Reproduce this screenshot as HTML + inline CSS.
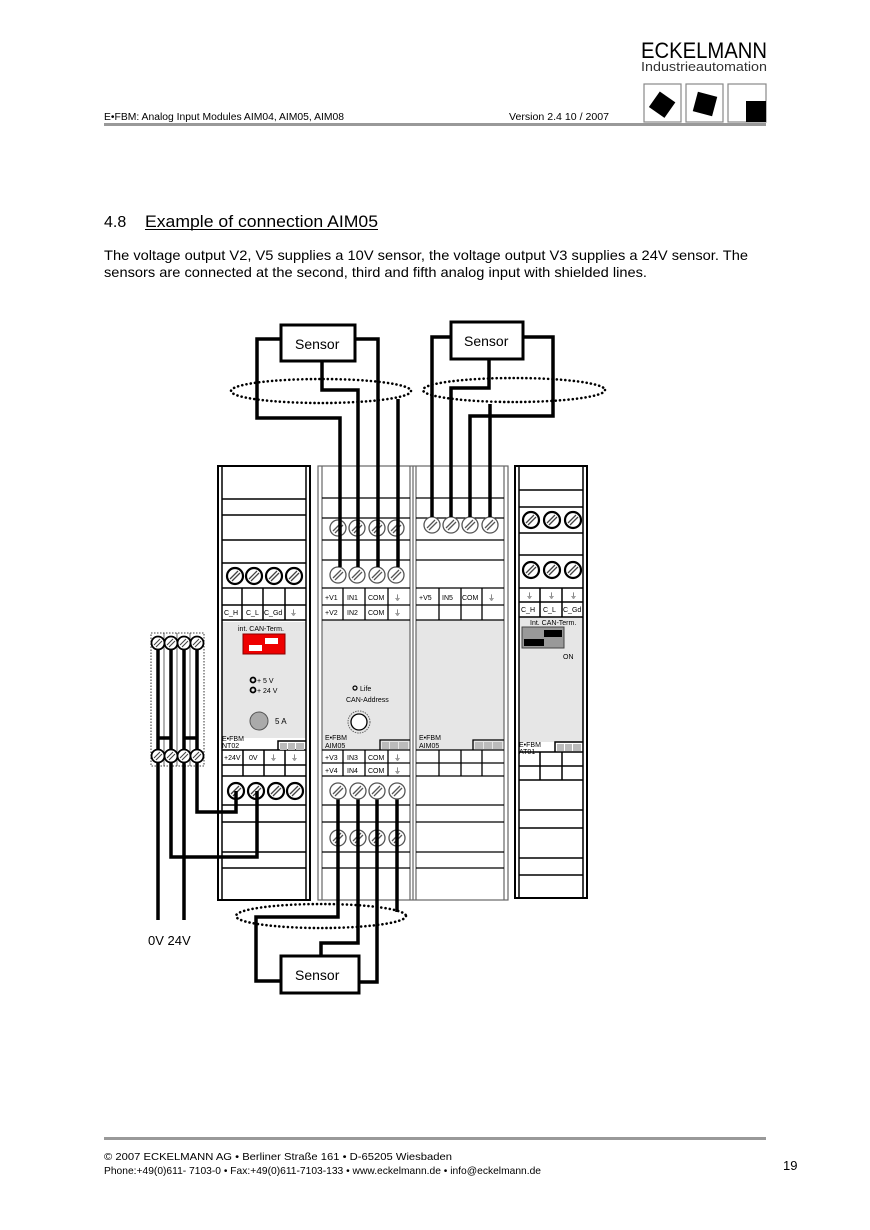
<!DOCTYPE html>
<html><head><meta charset="utf-8"><style>
html,body{margin:0;padding:0;background:#fff}
svg{display:block}
text{font-family:"Liberation Sans",Arial,sans-serif}
</style></head><body>
<svg width="870" height="1230" viewBox="0 0 870 1230" xmlns="http://www.w3.org/2000/svg">
<defs>
<g id="t"><circle r="8" fill="#fff" stroke="#000" stroke-width="2.2"/><path d="M-5 3L3-5M-3 5L5-3" stroke="#444" stroke-width="1.3"/></g>
<g id="tg"><circle r="8" fill="#fff" stroke="#555" stroke-width="1.3"/><path d="M-5 3L3-5M-3 5L5-3" stroke="#555" stroke-width="1.3"/></g>
<g id="ts"><circle r="6.5" fill="#fff" stroke="#000" stroke-width="1.8"/><path d="M-4 2L2-4M-2 4L4-2" stroke="#444" stroke-width="1.1"/></g>
</defs>

<!-- Header -->
<text x="641" y="58" font-size="22" textLength="126" lengthAdjust="spacingAndGlyphs">ECKELMANN</text>
<text x="641" y="71" font-size="13" fill="#333" textLength="126" lengthAdjust="spacingAndGlyphs">Industrieautomation</text>
<rect x="644" y="84" width="37" height="38" fill="#fff" stroke="#888" stroke-width="1.2"/>
<rect x="686" y="84" width="37" height="38" fill="#fff" stroke="#888" stroke-width="1.2"/>
<rect x="728" y="84" width="38" height="38" fill="#fff" stroke="#888" stroke-width="1.2"/>
<rect x="653" y="95" width="19" height="19" transform="rotate(35 662 104)"/>
<rect x="695" y="94" width="20" height="20" transform="rotate(15 705 104)"/>
<rect x="746" y="101" width="20" height="21"/>
<text x="104" y="120" font-size="10" textLength="240" lengthAdjust="spacingAndGlyphs">E•FBM: Analog Input Modules AIM04, AIM05, AIM08</text>
<text x="509" y="120" font-size="10" textLength="100" lengthAdjust="spacingAndGlyphs">Version 2.4  10 / 2007</text>
<rect x="104" y="123" width="662" height="3" fill="#999"/>

<!-- Title -->
<text x="104" y="227" font-size="16">4.8</text>
<text x="145" y="227" font-size="17" textLength="233" lengthAdjust="spacingAndGlyphs">Example of connection AIM05</text>
<rect x="145" y="229" width="233" height="1" fill="#000"/>
<text x="104" y="260" font-size="14" textLength="644" lengthAdjust="spacingAndGlyphs">The voltage output V2, V5 supplies a 10V sensor, the voltage output V3 supplies a 24V sensor. The</text>
<text x="104" y="277" font-size="14" textLength="543" lengthAdjust="spacingAndGlyphs">sensors are connected at the second, third and fifth analog input with shielded lines.</text>

<!-- NT02 module -->
<g>
<rect x="218" y="466" width="92" height="434" fill="#fff" stroke="#000" stroke-width="2"/>
<rect x="222" y="622" width="84" height="116" fill="#e6e6e6"/>
<line x1="222" y1="466" x2="222" y2="900" stroke="#000" stroke-width="1.5"/>
<line x1="306" y1="466" x2="306" y2="900" stroke="#000" stroke-width="1.5"/>
<g stroke="#000" stroke-width="1.5">
<line x1="222" y1="499" x2="306" y2="499"/><line x1="222" y1="515" x2="306" y2="515"/>
<line x1="222" y1="540" x2="306" y2="540"/><line x1="222" y1="563" x2="306" y2="563"/>
<line x1="222" y1="588" x2="306" y2="588"/><line x1="222" y1="605" x2="306" y2="605"/>
<line x1="222" y1="620" x2="306" y2="620"/>
<line x1="242" y1="588" x2="242" y2="620"/><line x1="263" y1="588" x2="263" y2="620"/><line x1="285" y1="588" x2="285" y2="620"/>
<line x1="222" y1="750" x2="306" y2="750"/><line x1="222" y1="765" x2="306" y2="765"/><line x1="222" y1="776" x2="306" y2="776"/>
<line x1="243" y1="750" x2="243" y2="776"/><line x1="264" y1="750" x2="264" y2="776"/><line x1="285" y1="750" x2="285" y2="776"/>
<line x1="222" y1="805" x2="306" y2="805"/><line x1="222" y1="822" x2="306" y2="822"/>
<line x1="222" y1="852" x2="306" y2="852"/><line x1="222" y1="868" x2="306" y2="868"/>
<polyline points="278,750 278,741 306,741" fill="none"/>
</g>
<rect x="280" y="743" width="7" height="7" fill="#bbb"/><rect x="288" y="743" width="7" height="7" fill="#bbb"/><rect x="296" y="743" width="8" height="7" fill="#bbb"/>
<use href="#t" x="235" y="576"/><use href="#t" x="254" y="576"/><use href="#t" x="274" y="576"/><use href="#t" x="294" y="576"/>
<use href="#t" x="236" y="791"/><use href="#t" x="256" y="791"/><use href="#t" x="276" y="791"/><use href="#t" x="295" y="791"/>
<g font-size="7">
<text x="224" y="615">C_H</text><text x="246" y="615">C_L</text><text x="264" y="615">C_Gd</text><text x="290" y="615">⏚</text>
<text x="224" y="760">+24V</text><text x="249" y="760">0V</text><text x="270" y="760">⏚</text><text x="291" y="760">⏚</text>
<text x="238" y="631">int. CAN-Term.</text>
<text x="222" y="741">E•FBM</text><text x="222" y="748">NT02</text>
<text x="257" y="683">+   5 V</text><text x="257" y="693">+ 24 V</text>
<text x="275" y="724" font-size="8">5 A</text>
</g>
<circle cx="253" cy="680" r="2.5" fill="none" stroke="#000" stroke-width="1.8"/>
<circle cx="253" cy="690" r="2.5" fill="none" stroke="#000" stroke-width="1.8"/>
<circle cx="259" cy="721" r="9" fill="#aaa" stroke="#555"/>
<rect x="243" y="634" width="42" height="20" fill="#e00" stroke="#800"/>
<rect x="265" y="638" width="13" height="6" fill="#fff"/>
<rect x="249" y="645" width="13" height="6" fill="#fff"/>
</g>

<!-- AIM05 modules -->
<g>
<rect x="318" y="466" width="190" height="434" fill="#fff" stroke="#666" stroke-width="1.2"/>
<rect x="322" y="620" width="88" height="130" fill="#e6e6e6"/>
<rect x="416" y="620" width="88" height="130" fill="#e6e6e6"/>
<g stroke="#666" stroke-width="1.2">
<line x1="322" y1="466" x2="322" y2="900"/><line x1="410" y1="466" x2="410" y2="900"/>
<line x1="413" y1="466" x2="413" y2="900"/><line x1="416" y1="466" x2="416" y2="900"/>
<line x1="504" y1="466" x2="504" y2="900"/>
</g>
<g stroke="#000" stroke-width="1.3">
<line x1="322" y1="498" x2="410" y2="498"/><line x1="416" y1="498" x2="504" y2="498"/>
<line x1="322" y1="518" x2="410" y2="518"/><line x1="416" y1="518" x2="504" y2="518"/>
<line x1="322" y1="540" x2="410" y2="540"/><line x1="416" y1="540" x2="504" y2="540"/>
<line x1="322" y1="560" x2="410" y2="560"/><line x1="416" y1="560" x2="504" y2="560"/>
<line x1="322" y1="588" x2="410" y2="588"/><line x1="416" y1="588" x2="504" y2="588"/>
<line x1="322" y1="605" x2="410" y2="605"/><line x1="416" y1="605" x2="504" y2="605"/>
<line x1="322" y1="620" x2="410" y2="620"/><line x1="416" y1="620" x2="504" y2="620"/>
<line x1="343" y1="588" x2="343" y2="620"/><line x1="365" y1="588" x2="365" y2="620"/><line x1="388" y1="588" x2="388" y2="620"/>
<line x1="439" y1="588" x2="439" y2="620"/><line x1="461" y1="588" x2="461" y2="620"/><line x1="482" y1="588" x2="482" y2="620"/>
<line x1="322" y1="750" x2="410" y2="750"/><line x1="416" y1="750" x2="504" y2="750"/>
<line x1="322" y1="763" x2="410" y2="763"/><line x1="416" y1="763" x2="504" y2="763"/>
<line x1="322" y1="776" x2="410" y2="776"/><line x1="416" y1="776" x2="504" y2="776"/>
<line x1="343" y1="750" x2="343" y2="776"/><line x1="365" y1="750" x2="365" y2="776"/><line x1="388" y1="750" x2="388" y2="776"/>
<line x1="439" y1="750" x2="439" y2="776"/><line x1="461" y1="750" x2="461" y2="776"/><line x1="482" y1="750" x2="482" y2="776"/>
<line x1="322" y1="805" x2="410" y2="805"/><line x1="416" y1="805" x2="504" y2="805"/>
<line x1="322" y1="822" x2="410" y2="822"/><line x1="416" y1="822" x2="504" y2="822"/>
<line x1="322" y1="852" x2="410" y2="852"/><line x1="416" y1="852" x2="504" y2="852"/>
<line x1="322" y1="868" x2="410" y2="868"/><line x1="416" y1="868" x2="504" y2="868"/>
<polyline points="380,750 380,740 410,740" fill="none"/>
<polyline points="473,750 473,740 504,740" fill="none"/>
</g>
<rect x="382" y="742" width="7" height="7" fill="#bbb"/><rect x="390" y="742" width="8" height="7" fill="#bbb"/><rect x="399" y="742" width="9" height="7" fill="#bbb"/>
<rect x="475" y="742" width="8" height="7" fill="#bbb"/><rect x="484" y="742" width="8" height="7" fill="#bbb"/><rect x="493" y="742" width="9" height="7" fill="#bbb"/>
<use href="#tg" x="338" y="528"/><use href="#tg" x="357" y="528"/><use href="#tg" x="377" y="528"/><use href="#tg" x="396" y="528"/>
<use href="#tg" x="338" y="575"/><use href="#tg" x="357" y="575"/><use href="#tg" x="377" y="575"/><use href="#tg" x="396" y="575"/>
<use href="#tg" x="432" y="525"/><use href="#tg" x="451" y="525"/><use href="#tg" x="470" y="525"/><use href="#tg" x="490" y="525"/>
<use href="#tg" x="338" y="838"/><use href="#tg" x="358" y="838"/><use href="#tg" x="377" y="838"/><use href="#tg" x="397" y="838"/>
<g font-size="7">
<text x="325" y="600">+V1</text><text x="347" y="600">IN1</text><text x="368" y="600">COM</text><text x="394" y="600">⏚</text>
<text x="325" y="615">+V2</text><text x="347" y="615">IN2</text><text x="368" y="615">COM</text><text x="394" y="615">⏚</text>
<text x="419" y="600">+V5</text><text x="442" y="600">IN5</text><text x="462" y="600">COM</text><text x="488" y="600">⏚</text>
<text x="325" y="760">+V3</text><text x="347" y="760">IN3</text><text x="368" y="760">COM</text><text x="394" y="760">⏚</text>
<text x="325" y="773">+V4</text><text x="347" y="773">IN4</text><text x="368" y="773">COM</text><text x="394" y="773">⏚</text>
<text x="325" y="740">E•FBM</text><text x="325" y="748">AIM05</text>
<text x="419" y="740">E•FBM</text><text x="419" y="748">AIM05</text>
<text x="360" y="691">Life</text><text x="346" y="702">CAN-Address</text>
</g>
<circle cx="355" cy="688" r="2" fill="none" stroke="#000" stroke-width="1.2"/>
<circle cx="359" cy="722" r="11" fill="none" stroke="#666" stroke-width="1" stroke-dasharray="1.5 1"/>
<circle cx="359" cy="722" r="8" fill="#fff" stroke="#000" stroke-width="1.3"/>
</g>

<!-- AT01 -->
<g>
<rect x="515" y="466" width="72" height="432" fill="#fff" stroke="#000" stroke-width="2"/>
<rect x="519" y="617" width="64" height="125" fill="#e6e6e6"/>
<g stroke="#000" stroke-width="1.5">
<line x1="519" y1="466" x2="519" y2="898"/><line x1="583" y1="466" x2="583" y2="898"/>
<line x1="519" y1="490" x2="583" y2="490"/><line x1="519" y1="507" x2="583" y2="507"/>
<line x1="519" y1="533" x2="583" y2="533"/><line x1="519" y1="555" x2="583" y2="555"/>
<line x1="519" y1="588" x2="583" y2="588"/><line x1="519" y1="602" x2="583" y2="602"/><line x1="519" y1="617" x2="583" y2="617"/>
<line x1="540" y1="588" x2="540" y2="617"/><line x1="562" y1="588" x2="562" y2="617"/>
<line x1="519" y1="752" x2="583" y2="752"/><line x1="519" y1="766" x2="583" y2="766"/><line x1="519" y1="780" x2="583" y2="780"/>
<line x1="540" y1="752" x2="540" y2="780"/><line x1="562" y1="752" x2="562" y2="780"/>
<line x1="519" y1="810" x2="583" y2="810"/><line x1="519" y1="828" x2="583" y2="828"/>
<line x1="519" y1="858" x2="583" y2="858"/><line x1="519" y1="875" x2="583" y2="875"/>
<polyline points="555,752 555,742 583,742" fill="none"/>
</g>
<rect x="557" y="744" width="7" height="7" fill="#bbb"/><rect x="565" y="744" width="7" height="7" fill="#bbb"/><rect x="573" y="744" width="8" height="7" fill="#bbb"/>
<use href="#t" x="531" y="520"/><use href="#t" x="552" y="520"/><use href="#t" x="573" y="520"/>
<use href="#t" x="531" y="570"/><use href="#t" x="552" y="570"/><use href="#t" x="573" y="570"/>
<g font-size="7">
<text x="526" y="598">⏚</text><text x="548" y="598">⏚</text><text x="570" y="598">⏚</text>
<text x="521" y="612">C_H</text><text x="543" y="612">C_L</text><text x="563" y="612">C_Gd</text>
<text x="530" y="625">Int. CAN-Term.</text>
<text x="529" y="636">S1</text><text x="555" y="646">S2</text><text x="563" y="659">ON</text>
<text x="519" y="747">E•FBM</text><text x="519" y="754">AT01</text>
</g>
<rect x="522" y="627" width="42" height="21" fill="#999" stroke="#444"/>
<rect x="544" y="630" width="18" height="7" fill="#000"/>
<rect x="524" y="639" width="20" height="7" fill="#000"/>
</g>

<!-- Left terminal block -->
<rect x="151" y="633" width="53" height="133" fill="#fff" stroke="#000" stroke-width="0.8" stroke-dasharray="1.5 1.5"/>
<g stroke="#000" stroke-width="0.6" fill="none">
<line x1="164" y1="633" x2="164" y2="766"/><line x1="177" y1="633" x2="177" y2="766"/><line x1="190" y1="633" x2="190" y2="766"/>
</g>
<g stroke="#000" stroke-width="3.5" fill="none">
<line x1="158" y1="643" x2="158" y2="756"/><line x1="171" y1="643" x2="171" y2="756"/>
<line x1="184" y1="643" x2="184" y2="756"/><line x1="197" y1="643" x2="197" y2="756"/>
<line x1="158" y1="738" x2="171" y2="738"/><line x1="184" y1="738" x2="197" y2="738"/>
<line x1="158" y1="756" x2="158" y2="920"/><line x1="184" y1="756" x2="184" y2="920"/>
<polyline points="171,756 171,857 257,857 257,791"/>
<polyline points="197,756 197,812 236,812 236,791"/>
</g>
<use href="#ts" x="158" y="643"/><use href="#ts" x="171" y="643"/><use href="#ts" x="184" y="643"/><use href="#ts" x="197" y="643"/>
<use href="#ts" x="158" y="756"/><use href="#ts" x="171" y="756"/><use href="#ts" x="184" y="756"/><use href="#ts" x="197" y="756"/>
<text x="148" y="945" font-size="13">0V  24V</text>

<!-- Top wiring -->
<g stroke="#000" stroke-width="3.5" fill="none">
<polyline points="281,339 257,339 257,418 340,418 340,567"/>
<polyline points="322,361 322,390 358,390 358,567"/>
<polyline points="354,339 378,339 378,567"/>
<line x1="398" y1="399" x2="398" y2="567"/>
<polyline points="451,337 432,337 432,517"/>
<polyline points="489,360 489,388 451,388 451,517"/>
<polyline points="522,337 553,337 553,416 470,416 470,517"/>
<line x1="490" y1="404" x2="490" y2="517"/>
</g>
<rect x="281" y="325" width="74" height="36" fill="#fff" stroke="#000" stroke-width="3"/>
<text x="295" y="349" font-size="14">Sensor</text>
<rect x="451" y="322" width="72" height="37" fill="#fff" stroke="#000" stroke-width="3"/>
<text x="464" y="346" font-size="14">Sensor</text>
<ellipse cx="321" cy="391" rx="90" ry="12" fill="none" stroke="#000" stroke-width="2.6" stroke-dasharray="0.1 4.2" stroke-linecap="round"/>
<ellipse cx="514" cy="390" rx="91" ry="12" fill="none" stroke="#000" stroke-width="2.6" stroke-dasharray="0.1 4.2" stroke-linecap="round"/>

<!-- Bottom wiring -->
<g stroke="#000" stroke-width="3.5" fill="none">
<polyline points="338,791 338,917 256,917 256,981 281,981"/>
<polyline points="358,791 358,943 321,943 321,956"/>
<polyline points="377,791 377,982 359,982"/>
<line x1="397" y1="791" x2="397" y2="912"/>
</g>
<use href="#tg" x="338" y="791"/><use href="#tg" x="358" y="791"/><use href="#tg" x="377" y="791"/><use href="#tg" x="397" y="791"/>
<rect x="281" y="956" width="78" height="37" fill="#fff" stroke="#000" stroke-width="3"/>
<text x="295" y="980" font-size="14">Sensor</text>
<ellipse cx="321" cy="916" rx="85" ry="12" fill="none" stroke="#000" stroke-width="2.6" stroke-dasharray="0.1 4.2" stroke-linecap="round"/>

<!-- Footer -->
<rect x="104" y="1137" width="662" height="3" fill="#999"/>
<text x="104" y="1160" font-size="10.5" textLength="348" lengthAdjust="spacingAndGlyphs">©  2007 ECKELMANN AG • Berliner Straße 161 • D-65205 Wiesbaden</text>
<text x="104" y="1174" font-size="10.5" textLength="437" lengthAdjust="spacingAndGlyphs">Phone:+49(0)611- 7103-0 • Fax:+49(0)611-7103-133 • www.eckelmann.de • info@eckelmann.de</text>
<text x="783" y="1170" font-size="13">19</text>
</svg>
</body></html>
